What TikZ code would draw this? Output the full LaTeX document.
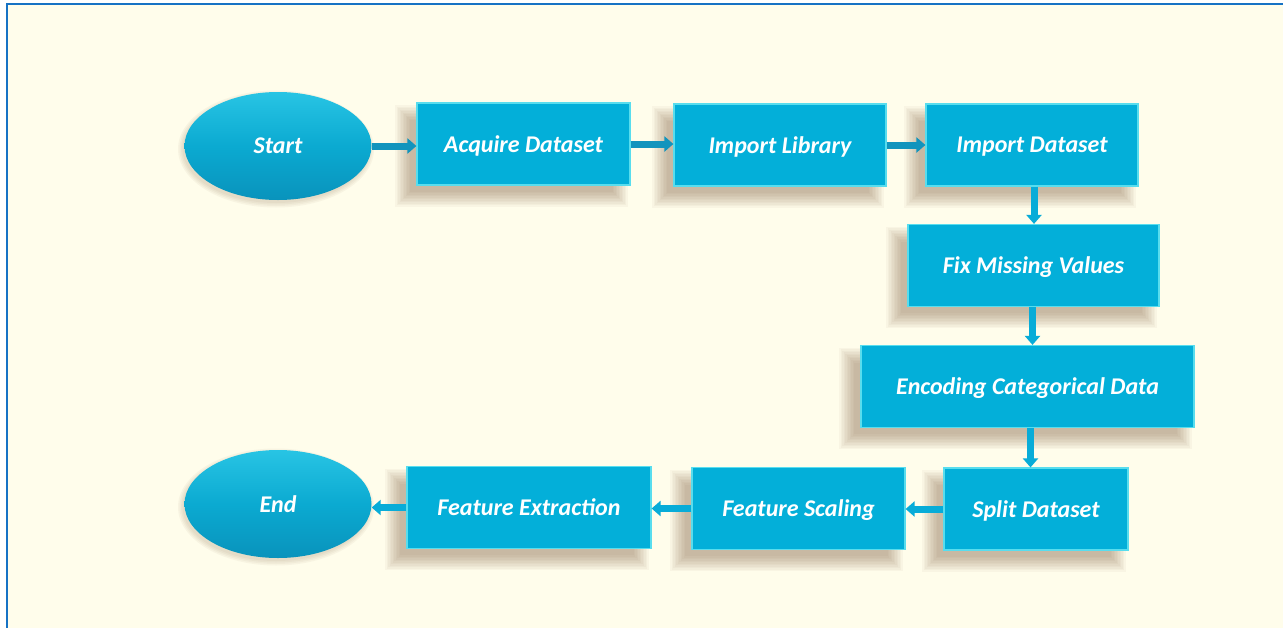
\documentclass[tikz,border=0pt]{standalone}
\usepackage{fontspec}
\setmainfont{Carlito}
\usetikzlibrary{arrows.meta,shapes.geometric}
\pgfdeclarelayer{bgl}
\pgfdeclarelayer{shad}
\pgfsetlayers{bgl,shad,main}
\definecolor{bg}{HTML}{FFFDEB}
\definecolor{frame}{HTML}{1672C4}
\definecolor{boxc}{HTML}{03AFD9}
\definecolor{boxedge}{HTML}{58DDEE}
\definecolor{ellc}{HTML}{0BAAD1}
\definecolor{elltop}{HTML}{28C4E4}
\definecolor{ellbot}{HTML}{0993BC}
\definecolor{arrtop}{HTML}{1294BD}
\definecolor{arrc}{HTML}{08ACD8}
\definecolor{shc}{HTML}{7A5A3A}
\tikzset{
  lbl/.style={text=white, font=\fontsize{24}{28}\selectfont\bfseries\itshape},
  stepbox/.style={lbl, rectangle, fill=boxc, draw=boxedge, line width=1.2pt,
    minimum height=82pt, text depth=0pt},
  term/.style={lbl, ellipse, minimum width=187pt, minimum height=108pt, inner sep=0pt,
    top color=elltop, bottom color=ellbot, middle color=ellc, draw=none},
  flow/.style={line width=7pt, -{Triangle[width=15pt,length=9pt]}, draw=arrc},
  flowtop/.style={flow, draw=arrtop},
  shadlayer/.style={fill=shc, opacity=0.045},
}
\begin{document}
\begin{tikzpicture}[x=1pt,y=-1pt]
\clip (0,0) rectangle (1283,627);
\begin{pgfonlayer}{bgl}
\fill[white] (0,0) rectangle (1283,627);
\draw[fill=bg, draw=frame, line width=2.2pt] (7,4) rectangle (1300,650);
\end{pgfonlayer}

\node[term] (start) at (278,146) {Start};
\node[stepbox, minimum width=213pt] (acq) at (523.5,144) {Acquire Dataset};
\node[stepbox, minimum width=212pt] (lib) at (780,145) {Import Library};
\node[stepbox, minimum width=212pt] (imp) at (1032,145) {Import Dataset};
\node[stepbox, minimum width=251pt] (fix) at (1033.5,265.5) {Fix Missing Values};
\node[stepbox, minimum width=333pt] (enc) at (1027.5,386.5) {Encoding Categorical Data};
\node[stepbox, minimum width=184pt] (split) at (1036,509) {Split Dataset};
\node[stepbox, minimum width=213pt] (scale) at (798.5,508.5) {Feature Scaling};
\node[stepbox, minimum width=244pt] (ext) at (529,507.5) {Feature Extraction};
\node[term] (end) at (278,504) {End};

\begin{pgfonlayer}{shad}
\foreach \n in {acq,lib,imp,fix,enc,split,scale,ext}{
  \foreach \g in {-6,-4.5,...,9}{
    \fill[shadlayer] ([shift={(-12-\g,12-\g)}]\n.north west) rectangle ([shift={(-12+\g,12+\g)}]\n.south east);
  }
}
\foreach \n in {start,end}{
  \foreach \g in {0,1.5,3,4.5}{
    \fill[shadlayer, opacity=0.05] ([shift={(-2,3)}]\n.center) ellipse[x radius=93.5+\g, y radius=54+\g];
  }
}
\end{pgfonlayer}

\draw[flowtop] (start.east) -- (start.east -| acq.west);
\draw[flowtop] (acq.east) -- (acq.east -| lib.west);
\draw[flowtop] (lib.east) -- (lib.east -| imp.west);
\draw[flow] ([xshift=2pt]imp.south) -- ([xshift=2pt]imp.south |- fix.north);
\draw[flow] ([xshift=-1pt]fix.south) -- ([xshift=-1pt]fix.south |- enc.north);
\draw[flow] ([xshift=3pt]enc.south) -- ([xshift=3pt]enc.south |- split.north);
\draw[flow] (split.west) -- (split.west -| scale.east);
\draw[flow] (scale.west) -- (scale.west -| ext.east);
\draw[flow] (ext.west) -- (ext.west -| end.east);
\end{tikzpicture}
\end{document}
